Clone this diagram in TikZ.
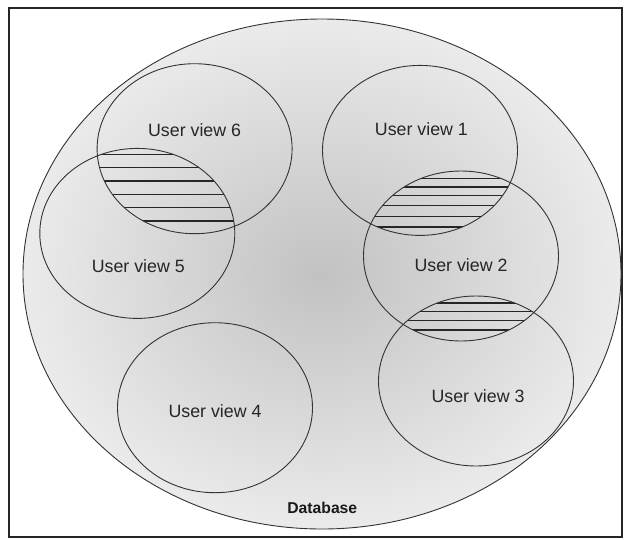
\documentclass[tikz,border=0pt]{standalone}
\usepackage{fontspec}
\setmainfont{Liberation Sans}
\begin{document}
\begin{tikzpicture}[x=1pt,y=-1pt,
  viewline/.style={draw=black!80, line width=0.9pt},
  hatchline/.style={draw=black!85, line width=1.3pt},
  viewlabel/.style={font=\fontsize{17.8}{20}\selectfont, text=black!85, inner sep=0pt},
  dblabel/.style={font=\fontsize{15.7}{18}\selectfont\bfseries, text=black!90, inner sep=0pt}]
\useasboundingbox (0,0) rectangle (624,539);
% frame
\draw[black!85, line width=1.3pt] (9,8) rectangle (622,537);
% database ellipse
\coordinate (db) at (322,274);
\shade[inner color=black!24, outer color=black!8] (db) ellipse [x radius=299pt, y radius=255pt];
\draw[viewline] (db) ellipse [x radius=299pt, y radius=255pt];
% view centres
\coordinate (c1) at (420,150.4);
\coordinate (c2) at (461,256);
\coordinate (c3) at (476,381);
\coordinate (c4) at (215,407.7);
\coordinate (c5) at (137.3,233.4);
\coordinate (c6) at (194.6,148.7);
% hatching 6 & 5
\begin{scope}
  \clip (c6) ellipse [x radius=97.5pt, y radius=85pt];
  \clip (c5) ellipse [x radius=97.5pt, y radius=85pt];
  \foreach \yy in {154.5,167.8,181.1,194.4,207.7,221}
    \draw[hatchline] (0,\yy) -- (624,\yy);
\end{scope}
% hatching 1 & 2
\begin{scope}
  \clip (c1) ellipse [x radius=97.5pt, y radius=85pt];
  \clip (c2) ellipse [x radius=97.5pt, y radius=85pt];
  \foreach \yy in {178.5,187,195.5,205.5,216.3,227}
    \draw[hatchline] (0,\yy) -- (624,\yy);
\end{scope}
% hatching 2 & 3
\begin{scope}
  \clip (c2) ellipse [x radius=97.5pt, y radius=85pt];
  \clip (c3) ellipse [x radius=97.5pt, y radius=85pt];
  \foreach \yy in {303,311.5,320.5,330}
    \draw[hatchline] (0,\yy) -- (624,\yy);
\end{scope}
% view ellipses
\foreach \c in {c1,c2,c3,c4,c5,c6}
  \draw[viewline] (\c) ellipse [x radius=97.5pt, y radius=85pt];
% labels
\node[viewlabel] (uv6) at (194.6,130) {User view 6};
\node[viewlabel] (uv1) at (421.4,129) {User view 1};
\node[viewlabel] (uv5) at (138.3,266.4) {User view 5};
\node[viewlabel] (uv2) at (461,264.7) {User view 2};
\node[viewlabel] (uv3) at (478,396) {User view 3};
\node[viewlabel] (uv4) at (215,410.8) {User view 4};
\node[dblabel] (dbl) at (322.3,508) {Database};
\end{tikzpicture}
\end{document}
